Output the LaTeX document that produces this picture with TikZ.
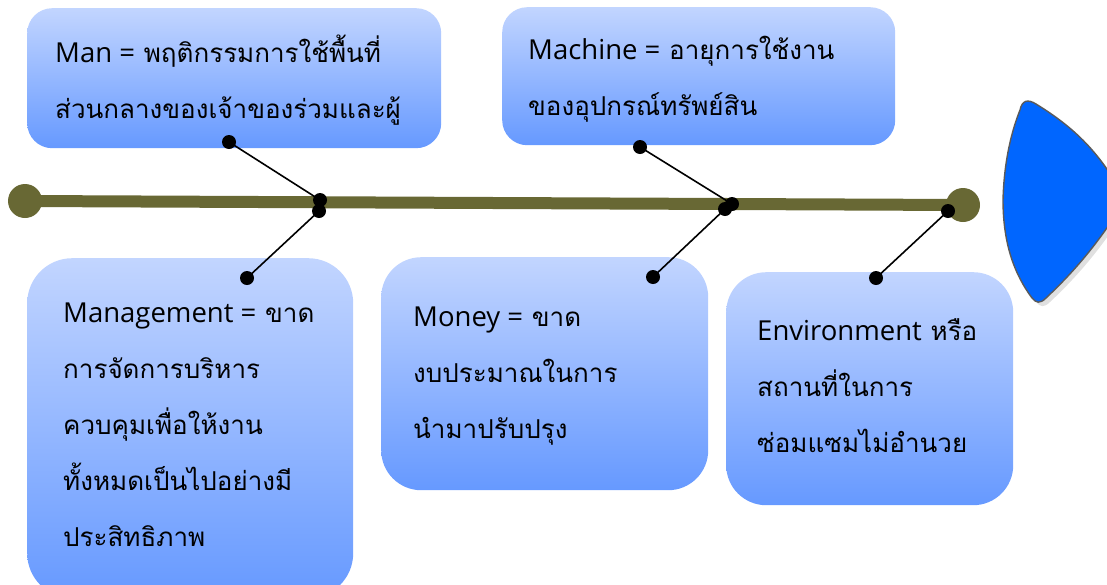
\documentclass[tikz,border=0pt]{standalone}
\usepackage{fontspec}
\newfontfamily\thaifont[Script=Thai]{Loma}
\newfontfamily\latfont{Open Sans}
\newcommand{\lt}[1]{{\latfont\fontsize{27.5}{56}\selectfont #1}}
\definecolor{spine}{RGB}{104,104,52}
\definecolor{boxtop}{RGB}{194,213,255}
\definecolor{boxbot}{RGB}{102,153,255}
\definecolor{headblue}{RGB}{0,102,255}
\definecolor{headline}{RGB}{90,90,90}
\tikzset{
  box/.style={draw=none, top color=boxtop, bottom color=boxbot, anchor=north west, inner sep=0pt},
  label/.style={anchor=base west, align=left, inner sep=0pt, font={\thaifont\fontsize{26}{56}\selectfont}},
  dot/.style={circle, fill=black, inner sep=0pt, minimum size=14pt},
  bone/.style={line width=1.6pt, black},
  endcap/.style={circle, fill=spine, inner sep=0pt, minimum size=34pt}
}
\def\headpath{(1020,110) .. controls (1022,100) and (1028,99) .. (1036,104) .. controls (1070,125) and (1100,150) .. (1125,200) .. controls (1095,250) and (1065,280) .. (1046,298) .. controls (1040,304) and (1036,303) .. (1032,298) .. controls (1015,275) and (1003,245) .. (1003,200) .. controls (1004,160) and (1012,130) .. cycle}
\begin{document}
\begin{tikzpicture}[x=1pt,y=-1pt]
\useasboundingbox (0,0) rectangle (1107,584);
\clip (0,0) rectangle (1107,584);
% boxes
\node[box, rounded corners=25pt, minimum width=414pt, minimum height=140pt] (manbox) at (27,8) {};
\node[box, rounded corners=25pt, minimum width=393pt, minimum height=138pt] (macbox) at (502,7) {};
\node[box, rounded corners=45pt, minimum width=326pt, minimum height=340pt] (mgtbox) at (27,258) {};
\node[box, rounded corners=40pt, minimum width=327pt, minimum height=233pt] (monbox) at (381,257) {};
\node[box, rounded corners=40pt, minimum width=287pt, minimum height=233pt] (envbox) at (726,272) {};
% texts (anchored at the baseline of the last line)
\node[label] (mantxt) at (55,118) {\lt{Man =} พฤติกรรมการใช้พื้นที่\\ส่วนกลางของเจ้าของร่วมและผู้};
\node[label] (mactxt) at (528,115) {\lt{Machine =} อายุการใช้งาน\\ของอุปกรณ์ทรัพย์สิน};
\node[label] (mgttxt) at (63,546) {\lt{Management =} ขาด\\การจัดการบริหาร\\ควบคุมเพื่อให้งาน\\ทั้งหมดเป็นไปอย่างมี\\ประสิทธิภาพ};
\node[label] (montxt) at (413,438) {\lt{Money =} ขาด\\งบประมาณในการ\\นำมาปรับปรุง};
\node[label] (envtxt) at (757,452) {\lt{Environment} หรือ\\สถานที่ในการ\\ซ่อมแซมไม่อำนวย};
% head
\path[fill=black!12, shift={(4,4)}] \headpath;
\draw[fill=headblue, draw=headline, line width=1.4pt] \headpath;
% spine
\node[endcap] (tail) at (25,201) {};
\node[endcap] (head) at (963,205) {};
\draw[line width=12pt, spine] (tail.center) -- (head.center);
% bones
\node[dot] (d1) at (229,142) {};
\node[dot] (d2) at (320,200) {};
\node[dot] (d3) at (247,278) {};
\node[dot] (d4) at (319,211) {};
\node[dot] (d5) at (640,147) {};
\node[dot] (d6) at (732,204) {};
\node[dot] (d7) at (653,277) {};
\node[dot] (d8) at (725,209) {};
\node[dot] (d9) at (876,278) {};
\node[dot] (d10) at (948,211) {};
\draw[bone] (d1.center) -- (d2.center);
\draw[bone] (d3.center) -- (d4.center);
\draw[bone] (d5.center) -- (d6.center);
\draw[bone] (d7.center) -- (d8.center);
\draw[bone] (d9.center) -- (d10.center);
\end{tikzpicture}
\end{document}
